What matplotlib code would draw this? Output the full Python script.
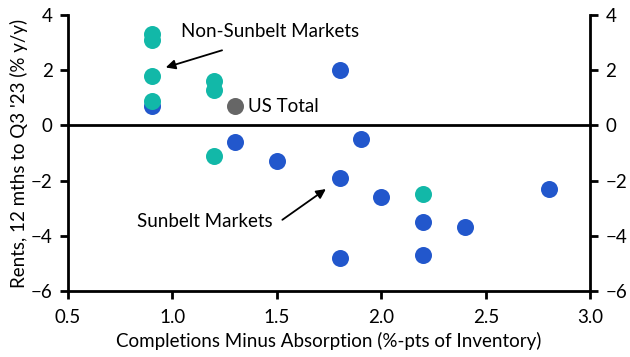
import matplotlib
matplotlib.use("Agg")
import matplotlib.pyplot as plt

plt.rcParams['font.family'] = ['Lato', 'DejaVu Sans']

# Sunbelt markets
sunbelt_x = [0.9, 1.3, 1.5, 1.8, 1.8, 1.8, 1.9, 2.0, 2.2, 2.2, 2.4, 2.8]
sunbelt_y = [0.7, -0.6, -1.3, 2.0, -1.9, -4.8, -0.5, -2.6, -3.5, -4.7, -3.7, -2.3]

# Non-sunbelt markets
non_x = [0.9, 0.9, 0.9, 0.9, 1.2, 1.2, 1.2, 2.2]
non_y = [3.3, 3.1, 1.8, 0.9, 1.6, 1.3, -1.1, -2.5]

us_x = [1.3]
us_y = [0.7]

BLUE = "#2257cc"
TEAL = "#12b8a8"
GREY = "#666666"

fig = plt.figure(figsize=(6.3, 3.57), dpi=100)
ax = fig.add_axes([0.108, 0.185, 0.829, 0.773])

ax.scatter(sunbelt_x, sunbelt_y, s=150, color=BLUE, zorder=3, linewidths=0)
ax.scatter(non_x, non_y, s=150, color=TEAL, zorder=4, linewidths=0)
ax.scatter(us_x, us_y, s=150, color=GREY, zorder=4, linewidths=0)

ax.axhline(0, color="black", lw=2, zorder=2)

ax.set_xlim(0.5, 3.0)
ax.set_ylim(-6, 4)
ax.set_xticks([0.5, 1.0, 1.5, 2.0, 2.5, 3.0])
ax.set_xticklabels(["0.5", "1.0", "1.5", "2.0", "2.5", "3.0"])
ax.set_yticks([-6, -4, -2, 0, 2, 4])

ax.spines['top'].set_visible(False)
for sp in ['left', 'right', 'bottom']:
    ax.spines[sp].set_linewidth(2)
ax.tick_params(axis='both', direction='out', width=2, length=6, labelsize=13.5)
ax.tick_params(axis='x', pad=7)
ax.tick_params(axis='y', right=True, labelright=True, pad=5)

ax.set_xlabel("Completions Minus Absorption (%-pts of Inventory)", fontsize=13.5, labelpad=4)
ax.set_ylabel("Rents, 12 mths to Q3 '23 (% y/y)", fontsize=13.5, labelpad=2)

ax.text(1.36, 0.7, "US Total", fontsize=13.5, va="center", ha="left")

ax.annotate("Non-Sunbelt Markets", xy=(0.955, 2.07), xytext=(1.04, 3.4),
            fontsize=13.5, va="center", ha="left")
ax.annotate("", xy=(0.955, 2.07), xytext=(1.25, 2.75),
            arrowprops=dict(arrowstyle="-|>", color="black", lw=1.3, mutation_scale=14))

ax.annotate("Sunbelt Markets", xy=(1.745, -2.25), xytext=(1.48, -3.48),
            fontsize=13.5, va="center", ha="right")
ax.annotate("", xy=(1.745, -2.25), xytext=(1.515, -3.48),
            arrowprops=dict(arrowstyle="-|>", color="black", lw=1.3, mutation_scale=14))

fig.savefig("out.png", dpi=100)
